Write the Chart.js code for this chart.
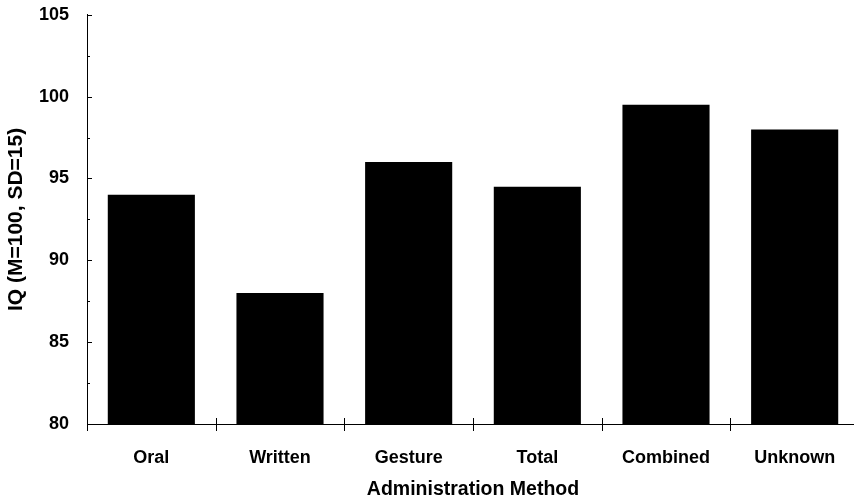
<!DOCTYPE html>
<html>
<head>
<meta charset="utf-8">
<script src="https://cdn.jsdelivr.net/npm/chart.js@4"></script>
<style>
  html, body { margin: 0; padding: 0; background: #fff; overflow: hidden; }
  #wrap { width: 862px; height: 515px; position: relative; top: -14px; }
</style>
</head>
<body>
<div id="wrap"><canvas id="chart"></canvas></div>
<script>
const categories = ['Oral', 'Written', 'Gesture', 'Total', 'Combined', 'Unknown'];
const iqValues = [94.0, 88.0, 96.0, 94.5, 99.5, 98.0];
const yTicks = [80, 85, 90, 95, 100, 105];

const FONT = 'Liberation Sans, Arial, Helvetica, sans-serif';

// small tick marks: y ticks point inward (major + minor), x ticks cross the axis between bars
const axisTicks = {
    id: 'axisTicks',
    afterDraw(chart) {
        const ctx = chart.ctx;
        const x = chart.scales.x;
        const y = chart.scales.y;
        ctx.save();
        ctx.strokeStyle = '#000';
        ctx.lineWidth = 1;
        ctx.beginPath();
        for (let v = yTicks[0]; v <= yTicks[yTicks.length - 1]; v += 2.5) {
            const py = Math.round(y.getPixelForValue(v)) + 0.5;
            const len = v % 5 === 0 ? 5 : 3;
            ctx.moveTo(x.left, py);
            ctx.lineTo(x.left + len, py);
        }
        const base = Math.round(y.getPixelForValue(yTicks[0]));
        for (let i = 0; i < categories.length; i++) {
            const px = i === 0 ? x.left : (x.getPixelForValue(i - 1) + x.getPixelForValue(i)) / 2;
            const rx = Math.round(px) + 0.5;
            ctx.moveTo(rx, i === 0 ? base : base - 6);
            ctx.lineTo(rx, base + 7);
        }
        ctx.stroke();
        ctx.restore();
    }
};

new Chart(document.getElementById('chart'), {
    type: 'bar',
    data: {
        labels: categories,
        datasets: [{
            data: iqValues,
            backgroundColor: '#000',
            borderWidth: 0,
            barPercentage: 0.677,
            categoryPercentage: 1.0
        }]
    },
    options: {
        responsive: true,
        maintainAspectRatio: false,
        animation: false,
        layout: { padding: { left: 0, right: 3, top: 0, bottom: 0 } },
        plugins: {
            legend: { display: false },
            tooltip: { enabled: false }
        },
        scales: {
            x: {
                grid: { display: false, drawTicks: false },
                border: { display: true, color: '#000', width: 1 },
                ticks: {
                    color: '#000',
                    font: { family: FONT, size: 18, weight: 'bold' },
                    padding: 23,
                    maxRotation: 0
                },
                title: {
                    display: true,
                    text: 'Administration Method',
                    color: '#000',
                    font: { family: FONT, size: 19.5, weight: 'bold', lineHeight: 1.2 },
                    padding: { top: 0, bottom: 0 }
                },
                afterFit(scale) { scale.height = 77; }
            },
            y: {
                min: 80,
                max: 105,
                grid: { display: false, drawTicks: false },
                border: { display: true, color: '#000', width: 1 },
                afterBuildTicks(scale) { scale.ticks = yTicks.map(v => ({ value: v })); },
                ticks: {
                    color: '#000',
                    font: { family: FONT, size: 18, weight: 'bold' },
                    padding: 18
                },
                title: {
                    display: true,
                    text: 'IQ (M=100, SD=15)',
                    color: '#000',
                    font: { family: FONT, size: 21, weight: 'bold', lineHeight: 1.2 },
                    padding: { top: 4, bottom: 0 }
                },
                afterFit(scale) { scale.width = 87; }
            }
        }
    },
    plugins: [axisTicks]
});
</script>
</body>
</html>
